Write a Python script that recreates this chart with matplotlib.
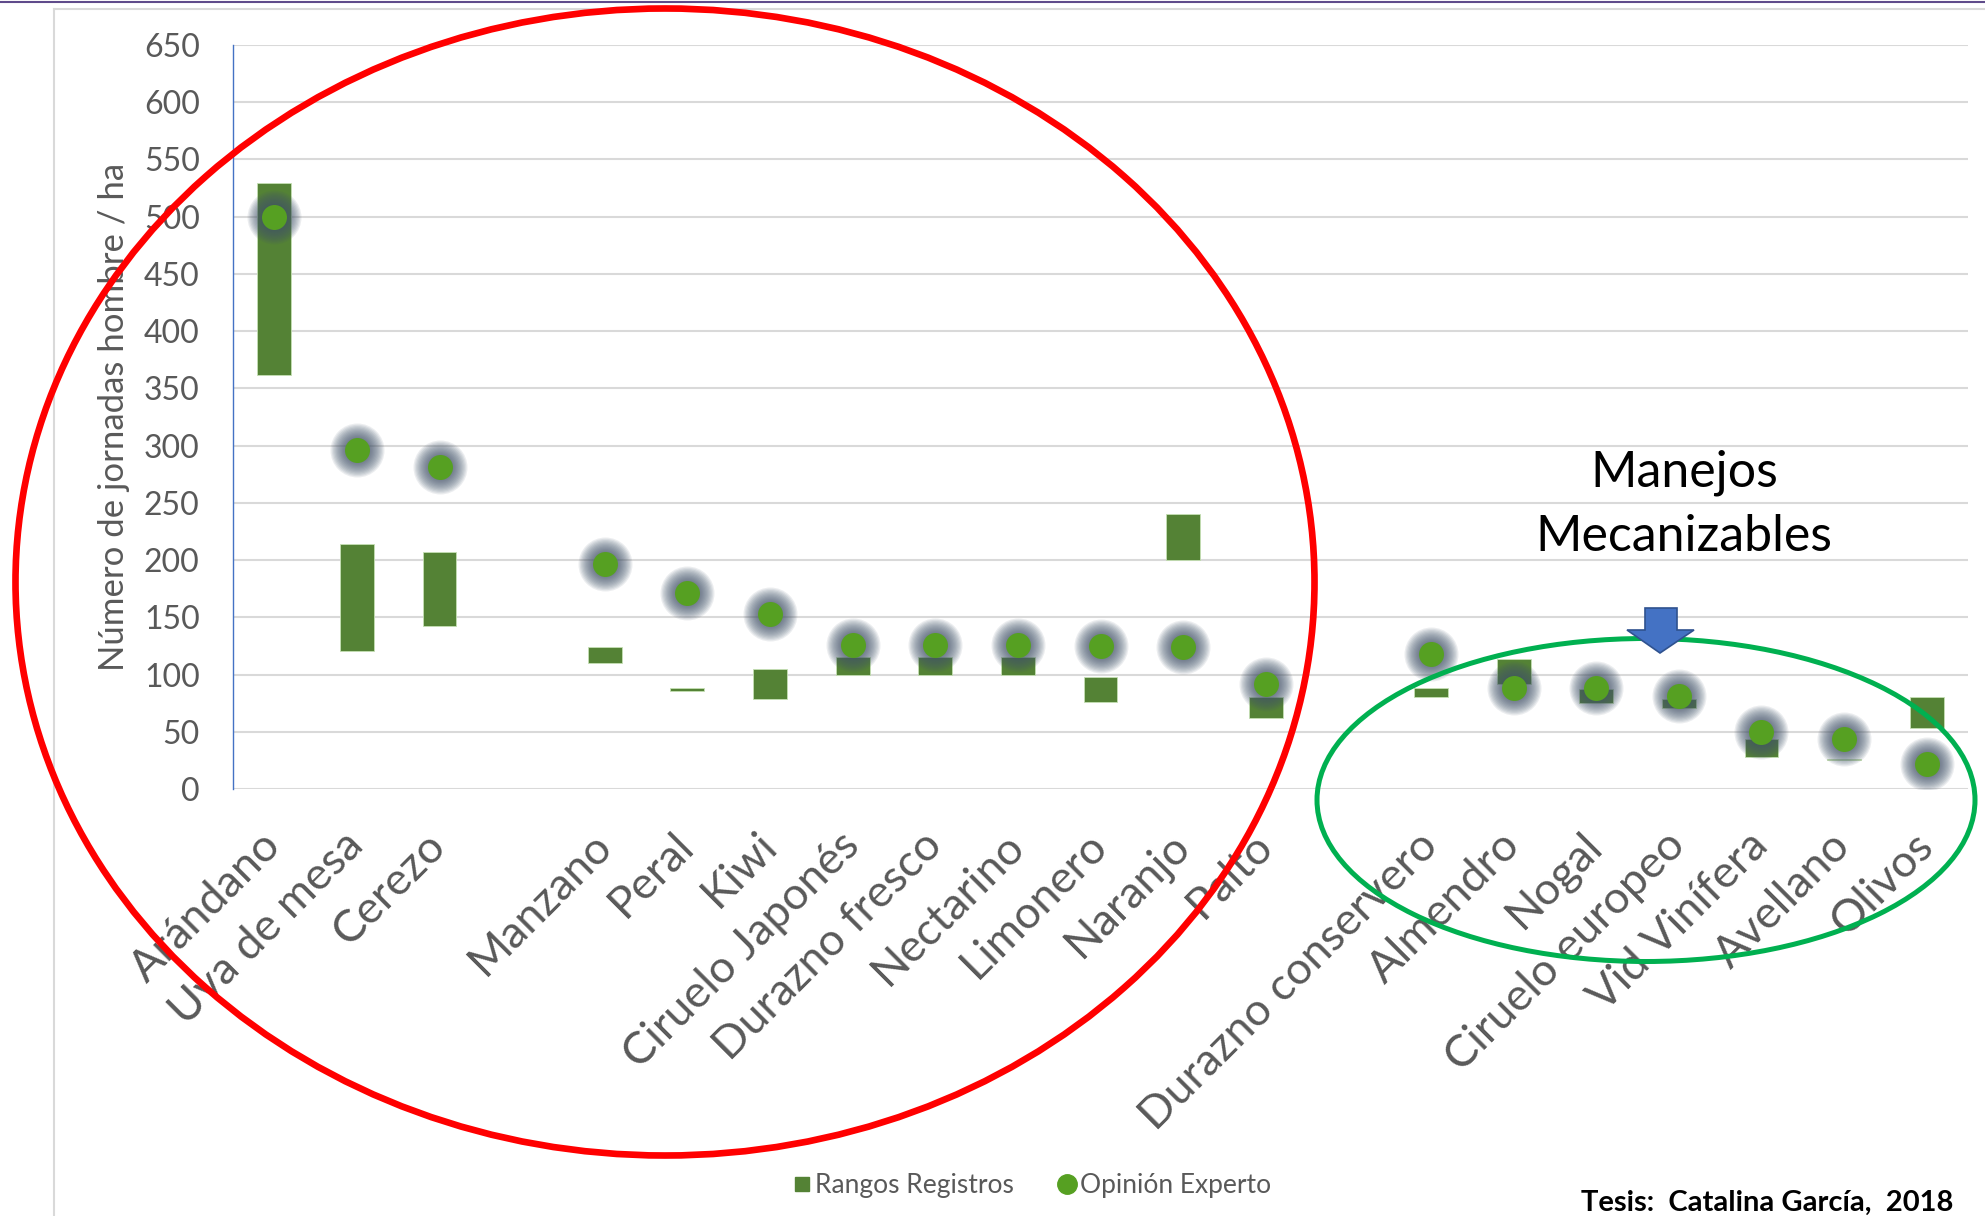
import numpy as np
import matplotlib
matplotlib.use("Agg")
import matplotlib.pyplot as plt
from matplotlib.patches import Ellipse, Polygon
from matplotlib.lines import Line2D

plt.rcParams['font.family'] = ['Lato', 'DejaVu Sans']

# data (empty strings are the gaps between groups)
categorias = ["Arándano", "Uva de mesa", "Cerezo", "", "Manzano", "Peral", "Kiwi",
              "Ciruelo Japonés", "Durazno fresco", "Nectarino", "Limonero", "Naranjo",
              "Palto", "", "Durazno conservero", "Almendro", "Nogal", "Ciruelo europeo",
              "Vid Vinífera", "Avellano", "Olivos"]
rango_min = [362, 121, 142, np.nan, 110, 86, 79, 100, 100, 100, 76, 200, 62, np.nan,
             80, 92, 75, 71, 28, 25, 53]
rango_max = [529, 214, 207, np.nan, 124, 88, 105, 115, 115, 115, 98, 240, 80, np.nan,
             88, 114, 87, 79, 44, 26, 80]
opinion = [500, 296, 281, np.nan, 197, 171, 153, 126, 126, 126, 125, 124, 92, np.nan,
           118, 88, 88, 81, 50, 44, 22]
yticks = list(range(0, 651, 50))

W, H = 1985, 1216
gris = '#595959'
verde_barra = '#548235'
verde_punto = '#56A022'

fig = plt.figure(figsize=(W / 100, H / 100), dpi=100)
ax = fig.add_axes([233 / W, 1 - 789 / H, (1968 - 233) / W, (789 - 45) / H])

x = np.arange(len(categorias))
lo = np.array(rango_min, dtype=float)
hi = np.array(rango_max, dtype=float)
op = np.array(opinion, dtype=float)

ax.bar(x, hi - lo, bottom=lo, width=0.41, color=verde_barra,
       edgecolor='#C5E0B4', linewidth=0.6, zorder=2)

# glow around the expert points
for d in np.linspace(54, 26, 12):
    ax.scatter(x, op, s=(d * 0.72) ** 2, color='#44546A', alpha=0.1,
               linewidths=0, zorder=3)
ax.scatter(x, op, s=(25 * 0.72) ** 2, color=verde_punto, linewidths=0, zorder=4)

ax.set_xlim(-0.5, len(categorias) - 0.5)
ax.set_ylim(0, 650)
ax.set_yticks(yticks)
ax.set_xticks(x)
ax.set_xticklabels(categorias)
ax.grid(axis='y', color='#D9D9D9', linewidth=1.5, zorder=0)
ax.set_axisbelow(True)
for s in ['top', 'right', 'bottom']:
    ax.spines[s].set_visible(False)
ax.spines['left'].set_color('#4472C4')
ax.spines['left'].set_linewidth(1.0)
ax.tick_params(axis='y', length=0, pad=24, labelsize=23, labelcolor=gris)
ax.tick_params(axis='x', length=0, pad=36, labelsize=32.5, labelcolor=gris)
for lab in ax.get_xticklabels():
    lab.set_rotation(45)
    lab.set_ha('right')
    lab.set_va('center')
    lab.set_rotation_mode('anchor')

ax.set_ylabel("Número de jornadas hombre / ha", fontsize=25, color=gris, va='center')
ax.yaxis.set_label_coords((114 - 233) / 1735, 0.5)

# legend
h1 = Line2D([], [], marker='s', linestyle='none', color=verde_barra, markersize=10)
h2 = Line2D([], [], marker='o', linestyle='none', color=verde_punto, markersize=14)
fig.legend([h1, h2], ["Rangos Registros", "Opinión Experto"], loc='center',
           bbox_to_anchor=(1031 / W, 1 - 1186 / H), ncol=2, frameon=False,
           fontsize=19, labelcolor=gris, handletextpad=0.1, handlelength=0.8,
           columnspacing=1.6)

fig.text(1953 / W, 1 - 1203 / H, "Tesis:  Catalina García,  2018", ha='right',
         va='center', fontsize=21, fontweight='bold', color='black')
fig.text(1684 / W, 1 - 505 / H, "Manejos\nMecanizables", ha='center', va='center',
         fontsize=36, color='black', linespacing=1.48)

# outer frame and top line
fig.add_artist(Line2D([54 / W, 54 / W], [0, 1 - 9 / H], color='#D9D9D9', lw=1.5))
fig.add_artist(Line2D([54 / W, 1], [1 - 9 / H, 1 - 9 / H], color='#D9D9D9', lw=1.5))
fig.add_artist(Line2D([0, 1], [1 - 2 / H, 1 - 2 / H], color='#5F4B8B', lw=1.5))

# annotation shapes
fig.add_artist(Ellipse((665 / W, 1 - 582 / H), 1299 / W, 1147 / H, fill=False,
                       edgecolor='#FF0000', lw=4.8, zorder=10))
fig.add_artist(Ellipse((1646 / W, 1 - 800 / H), 658 / W, 323 / H, fill=False,
                       edgecolor='#00B050', lw=3.6, zorder=10))
flecha = [(1645, 608), (1677, 608), (1677, 630), (1694, 630), (1660, 653),
          (1627, 630), (1645, 630)]
fig.add_artist(Polygon([(px / W, 1 - py / H) for px, py in flecha], closed=True,
                       facecolor='#4472C4', edgecolor='#2F528F', lw=1.2, zorder=11))

fig.savefig("out.png", dpi=100)
